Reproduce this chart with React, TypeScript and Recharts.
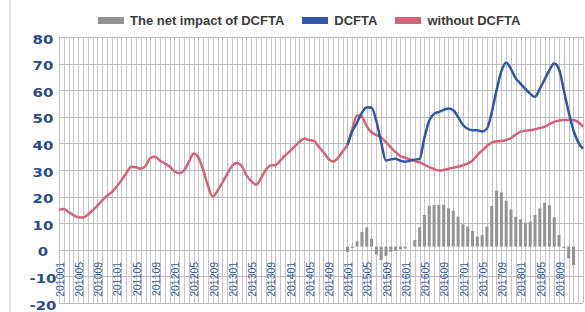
import { ComposedChart, Bar, Line, XAxis, YAxis, CartesianGrid } from "recharts"

// 201001 .. 201902, one category per month
const months = [
  "201001", "201002", "201003", "201004", "201005", "201006", "201007", "201008", "201009", "201010", "201011", "201012",
  "201101", "201102", "201103", "201104", "201105", "201106", "201107", "201108", "201109", "201110", "201111", "201112",
  "201201", "201202", "201203", "201204", "201205", "201206", "201207", "201208", "201209", "201210", "201211", "201212",
  "201301", "201302", "201303", "201304", "201305", "201306", "201307", "201308", "201309", "201310", "201311", "201312",
  "201401", "201402", "201403", "201404", "201405", "201406", "201407", "201408", "201409", "201410", "201411", "201412",
  "201501", "201502", "201503", "201504", "201505", "201506", "201507", "201508", "201509", "201510", "201511", "201512",
  "201601", "201602", "201603", "201604", "201605", "201606", "201607", "201608", "201609", "201610", "201611", "201612",
  "201701", "201702", "201703", "201704", "201705", "201706", "201707", "201708", "201709", "201710", "201711", "201712",
  "201801", "201802", "201803", "201804", "201805", "201806", "201807", "201808", "201809", "201810", "201811", "201812",
  "201901", "201902",
]

const tickLabels = [
  "201001", "201005", "201009", "201101", "201105", "201109", "201201", "201205", "201209",
  "201301", "201305", "201309", "201401", "201405", "201409", "201501", "201505", "201509",
  "201601", "201605", "201609", "201701", "201705", "201709", "201801", "201805", "201809",
]

const withoutDcfta = [
  15, 15.3, 14.2, 13, 12.2, 12.1, 13.2, 14.8, 16.6, 18.6, 20.3, 21.7,
  23.8, 26.2, 28.8, 31.2, 31, 30.5, 31.5, 34.5, 35, 33.5, 32.5, 31.3,
  29.5, 28.8, 29.8, 33, 36.2, 34.7, 30, 24, 20, 22.3, 25.3, 28.6,
  31.5, 32.6, 31.5, 28, 25.8, 24.5, 26.8, 30, 31.7, 31.8, 33.5, 35.4,
  37, 38.8, 40.5, 41.8, 41.3, 41, 38.8, 36.8, 34.3, 33.2, 34.5, 37,
  39.5, 45.5, 50.5, 50, 46.5, 44.2, 43.2, 42.2, 40.5, 38.5, 36.7, 35.2,
  34.6, 34, 33.4, 32.9, 32, 31.1, 30.4, 29.8, 30, 30.5, 30.9, 31.2,
  31.8, 32.4, 33.5, 35.6, 37.3, 39, 40.3, 40.8, 40.9, 41.3, 42, 43.3,
  44.4, 44.8, 44.9, 45.3, 45.8, 46.2, 47.2, 48.1, 48.6, 48.8, 48.8, 48.8,
  48, 46.3,
]

const dcfta = [
  null, null, null, null, null, null, null, null, null, null, null, null,
  null, null, null, null, null, null, null, null, null, null, null, null,
  null, null, null, null, null, null, null, null, null, null, null, null,
  null, null, null, null, null, null, null, null, null, null, null, null,
  null, null, null, null, null, null, null, null, null, null, null, null,
  39.5, 44.5, 47.8, 51.5, 53.5, 53.5, 48.5, 40.5, 33.6, 34, 34.2, 33.5,
  33.1, 33.5, 33.9, 34.2, 42, 48.5, 51.1, 51.8, 52.6, 53.1, 52.5, 50,
  47, 45.5, 44.9, 44.9, 44.5, 45.5, 51.5, 59.8, 67, 70.3, 68, 64.5,
  62.5, 60.5, 58.7, 57.5, 60.5, 64, 67.5, 70, 68, 60, 52, 45,
  40.5, 38,
]

const netImpact = [
  null, null, null, null, null, null, null, null, null, null, null, null,
  null, null, null, null, null, null, null, null, null, null, null, null,
  null, null, null, null, null, null, null, null, null, null, null, null,
  null, null, null, null, null, null, null, null, null, null, null, null,
  null, null, null, null, null, null, null, null, null, null, null, null,
  -2, -0.5, 2, 5.5, 7.2, 3, -3, -5, -3.5, -2, -1.5, -1,
  -0.7, null, 2.5, 7.25, 11.9, 15.4, 15.6, 15.6, 15.75, 14.4, 13.5, 11.25,
  8.4, 7.5, 5.9, 3.75, 4.4, 7.5, 15.25, 21, 20.4, 17.25, 14, 11.25,
  10.25, 9, 9.4, 11.9, 14.4, 16.5, 15.6, 11, 4.4, -0.5, -4.4, -6.9,
  null, null,
]

const yTicks = [-20, -10, 0, 10, 20, 30, 40, 50, 60, 70, 80]
const Y_MIN = yTicks[0]
const Y_MAX = yTicks[yTicks.length - 1]

// the bar series sits on its own (secondary) baseline, a little above the 0 line
const BAR_BASE = 1.2

const series = [
  { key: "net", name: "The net impact of DCFTA", color: "#939393" },
  { key: "dcfta", name: "DCFTA", color: "#3056a7" },
  { key: "without", name: "without DCFTA", color: "#d4627a" },
]

const data = months.map((m, k) => ({
  k,
  month: m,
  net: netImpact[k] == null ? null : [BAR_BASE, BAR_BASE + (netImpact[k] as number)],
  dcfta: dcfta[k],
  without: withoutDcfta[k],
}))

const W = 585
const H = 312
const margin = { top: 37, right: 2, bottom: 8, left: 0 }
const Y_AXIS_W = 59
const X_AXIS_H = 1
const plotTop = margin.top
const plotBottom = H - margin.bottom - X_AXIS_H
const zeroY = plotTop + ((plotBottom - plotTop) * Y_MAX) / (Y_MAX - Y_MIN)

function MonthTick({ x, payload }: any) {
  return (
    <text
      transform={`translate(${x + 1},${zeroY + 12}) rotate(-90)`}
      textAnchor="end"
      dy="0.36em"
      fill="#2f5aa8"
      fontSize={10.5}
      fontFamily="'Liberation Sans', Arial, sans-serif"
    >
      {months[payload.value]}
    </text>
  )
}

function ValueTick({ y, payload }: any) {
  return (
    <text
      transform={`translate(${Y_AXIS_W - 16},${y + 2}) scale(1.15,1)`}
      textAnchor="middle"
      dy="0.36em"
      fill="#2b4a8c"
      fontSize={13}
      fontWeight="bold"
      fontFamily="'DejaVu Sans', Verdana, sans-serif"
    >
      {payload.value}
    </text>
  )
}

// grid lines snapped to whole pixels so they stay crisp
const monthGrid = ({ offset }: any) =>
  months.map((_, k) => Math.round(offset.left + (k * offset.width) / (months.length - 1)) + 0.5)

const valueGrid = ({ offset }: any) =>
  yTicks.map((v) => Math.round(offset.top + ((Y_MAX - v) * offset.height) / (Y_MAX - Y_MIN)) + 0.5)

export default function App() {
  return (
    <div style={{ position: "absolute", left: 0, top: 0, width: W, height: H, background: "#fff", overflow: "hidden" }}>
      <div style={{ position: "absolute", left: 9, top: 0, width: 2, height: H, background: "#e2e2e2" }} />
      <div
        style={{
          position: "absolute",
          left: 98,
          top: 12,
          display: "flex",
          alignItems: "center",
          gap: 18,
          fontFamily: "'Liberation Sans', Arial, sans-serif",
          fontWeight: "bold",
          fontSize: 13,
          lineHeight: "17px",
          color: "#3a3a3a",
          whiteSpace: "nowrap",
          zIndex: 1,
        }}
      >
        {series.map((s) => (
          <div key={s.key} style={{ display: "flex", alignItems: "center", gap: 6 }}>
            <span style={{ display: "inline-block", width: 26, height: 7, background: s.color }} />
            <span>{s.name}</span>
          </div>
        ))}
      </div>
      <ComposedChart width={W} height={H} data={data} margin={margin}>
        <CartesianGrid stroke="#c4c4c4" strokeWidth={1} horizontal={false} verticalCoordinatesGenerator={monthGrid} />
        <CartesianGrid stroke="#bebebe" strokeWidth={1} vertical={false} horizontalCoordinatesGenerator={valueGrid} />
        <XAxis
          type="number"
          dataKey="k"
          domain={[0, months.length - 1]}
          ticks={tickLabels.map((t) => months.indexOf(t))}
          interval={0}
          tick={<MonthTick />}
          tickLine={false}
          axisLine={false}
          height={X_AXIS_H}
        />
        <YAxis
          domain={[Y_MIN, Y_MAX]}
          ticks={yTicks}
          interval={0}
          tick={<ValueTick />}
          tickLine={false}
          axisLine={false}
          width={Y_AXIS_W}
        />
        <Bar dataKey="net" name={series[0].name} fill={series[0].color} barSize={3} isAnimationActive={false} />
        <Line
          type="monotone"
          dataKey="without"
          name={series[2].name}
          stroke={series[2].color}
          strokeWidth={2.5}
          dot={false}
          isAnimationActive={false}
        />
        <Line
          type="monotone"
          dataKey="dcfta"
          name={series[1].name}
          stroke={series[1].color}
          strokeWidth={2.5}
          dot={false}
          isAnimationActive={false}
        />
      </ComposedChart>
    </div>
  )
}
